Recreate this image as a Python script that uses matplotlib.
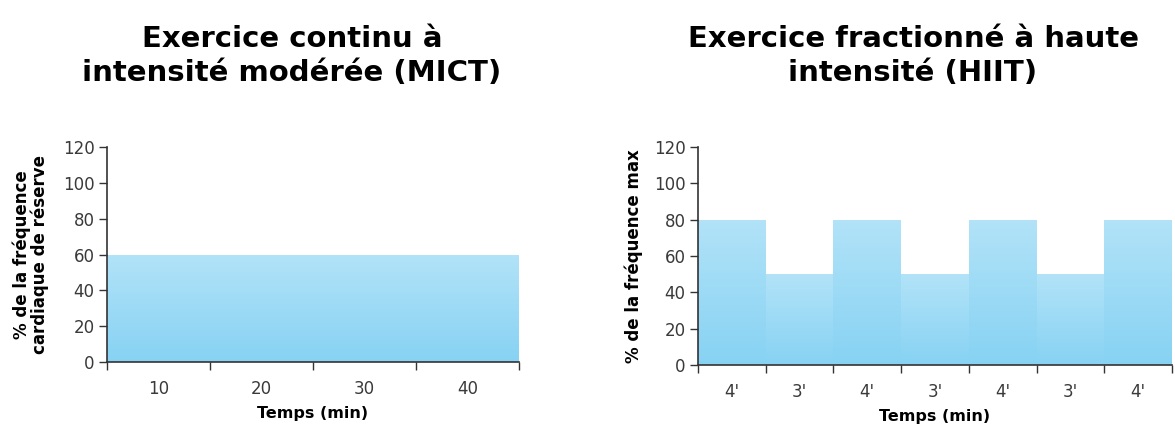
import numpy as np
import matplotlib.pyplot as plt
from matplotlib.colors import LinearSegmentedColormap

# MICT data
mict_labels = ["10", "20", "30", "40"]
mict_values = [60, 60, 60, 60]

# HIIT data
hiit_labels = ["4'", "3'", "4'", "3'", "4'", "3'", "4'"]
hiit_values = [80, 50, 80, 50, 80, 50, 80]

y_ticks = [0, 20, 40, 60, 80, 100, 120]

grad = LinearSegmentedColormap.from_list("g", ["#87d2f3", "#b2e3f8"])
axis_col = "#333333"
text_col = "#3a3a3a"


def gradient_bars(ax, labels, values):
    x = np.arange(len(values))
    bars = ax.bar(x, values, width=1.0, color="none", edgecolor="none")
    g = np.linspace(0, 1, 256).reshape(-1, 1)
    for b in bars:
        x0, y0 = b.get_x(), b.get_y()
        im = ax.imshow(g, cmap=grad, origin="lower", aspect="auto",
                       extent=[x0, x0 + b.get_width(), y0, y0 + b.get_height()],
                       zorder=1)
        im.set_clip_path(b)
    ax.set_xlim(-0.5, len(values) - 0.5)
    ax.set_ylim(0, 120)
    ax.set_yticks(y_ticks)
    ax.set_xticks(x)
    ax.set_xticklabels(labels)
    ax.set_xticks(np.arange(len(values) + 1) - 0.5, minor=True)
    ax.tick_params(axis="x", which="major", length=0, pad=13,
                   labelsize=12, labelcolor=text_col)
    ax.tick_params(axis="x", which="minor", length=6, width=1, color=axis_col,
                   direction="out")
    ax.tick_params(axis="y", length=6, width=1, color=axis_col,
                   labelsize=12, labelcolor=text_col, pad=3)
    for s in ["top", "right"]:
        ax.spines[s].set_visible(False)
    for s in ["left", "bottom"]:
        ax.spines[s].set_color(axis_col)
        ax.spines[s].set_linewidth(1.2)
    ax.set_xlabel("Temps (min)", fontsize=11.5, fontweight="bold", labelpad=6)


fig = plt.figure(figsize=(11.75, 4.26), dpi=100)

ax1 = fig.add_axes([107 / 1175, 1 - 362 / 426, 412 / 1175, 215 / 426])
gradient_bars(ax1, mict_labels, mict_values)
ax1.set_ylabel("% de la fréquence\ncardiaque de réserve", fontsize=12,
               fontweight="bold", labelpad=10, linespacing=0.95)

ax2 = fig.add_axes([698 / 1175, 1 - 365 / 426, 474 / 1175, 218 / 426])
gradient_bars(ax2, hiit_labels, hiit_values)
ax2.set_ylabel("% de la fréquence max", fontsize=12, fontweight="bold",
               labelpad=8)

fig.text(292 / 1175, 1 - 56 / 426, "Exercice continu à\nintensité modérée (MICT)",
         ha="center", va="center", fontsize=21, fontweight="bold",
         linespacing=1.3)
fig.text(913 / 1175, 1 - 56 / 426, "Exercice fractionné à haute\nintensité (HIIT)",
         ha="center", va="center", fontsize=21, fontweight="bold",
         linespacing=1.3)

fig.savefig("out.png", dpi=100)
